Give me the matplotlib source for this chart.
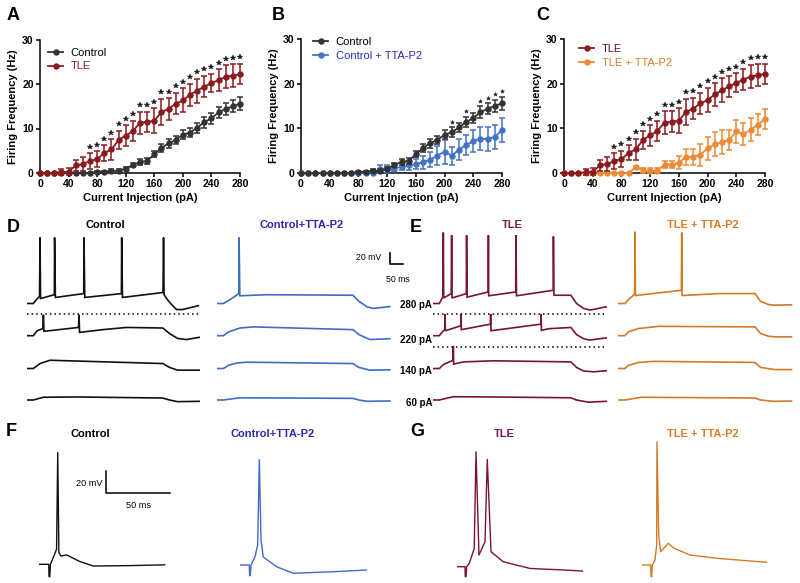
import numpy as np
import matplotlib
matplotlib.use('Agg')
import matplotlib.pyplot as plt
from matplotlib.lines import Line2D

plt.rcParams['font.family'] = ['Liberation Sans', 'DejaVu Sans']

W, H = 800, 583

# firing frequency (Hz) vs current injection (pA), mean and SEM
current = list(range(0, 290, 10))
ctrl_mean = [0, 0, 0, 0, 0, 0, 0, 0, 0.3, 0.3, 0.5, 0.5, 1.0, 1.8, 2.5, 2.7, 4.2, 5.6,
             6.7, 7.4, 8.6, 9.1, 10.2, 11.4, 12.3, 13.6, 14.4, 15.0, 15.6]
ctrl_sem = [0, 0, 0, 0, 0, 0, 0, 0, 0.2, 0.2, 0.3, 0.3, 0.4, 0.4, 0.6, 0.6, 0.7, 0.9,
            1.0, 0.9, 1.0, 1.1, 1.1, 1.2, 1.2, 1.3, 1.3, 1.4, 1.5]
tle_mean = [0, 0, 0, 0.2, 0.3, 1.7, 2.0, 2.7, 3.1, 4.5, 5.3, 7.4, 8.4, 9.4, 11.3, 11.5,
            11.7, 13.7, 14.4, 15.6, 16.3, 17.6, 18.5, 19.4, 20.2, 20.9, 21.6, 21.9, 22.2]
tle_sem = [0, 0, 0, 0.6, 0.8, 1.2, 1.5, 1.7, 1.8, 1.7, 2.3, 2.0, 2.3, 2.3, 2.5, 2.3,
           2.8, 2.9, 2.4, 2.4, 2.7, 2.5, 2.7, 2.4, 2.1, 2.4, 2.6, 2.5, 2.3]
ctrl_tta_mean = [0, 0, 0, 0, 0, 0, 0, 0, 0, 0, 0, 0.8, 0.9, 1.0, 1.4, 1.7, 2.0, 2.4,
                 3.0, 3.9, 4.8, 3.9, 5.2, 6.3, 7.1, 7.7, 7.6, 8.1, 9.6]
ctrl_tta_sem = [0, 0, 0, 0, 0, 0, 0, 0, 0, 0, 0, 0.9, 0.8, 0.6, 0.8, 1.0, 1.1, 1.5,
                1.7, 2.2, 2.7, 2.0, 2.4, 2.3, 2.5, 2.5, 2.6, 2.7, 2.7]
tle_tta_mean = [0, 0, 0, 0, 0, 0, 0, 0, 0, 0, 1.3, 0.6, 0.5, 0.5, 1.9, 1.9, 2.3, 3.6,
                3.6, 4.1, 5.5, 6.4, 6.9, 7.4, 9.3, 8.7, 9.7, 10.8, 12.1]
tle_tta_sem = [0, 0, 0, 0, 0, 0, 0, 0, 0, 0, 0.3, 0.6, 0.6, 0.6, 0.8, 0.8, 1.5, 1.7,
               1.7, 2.5, 2.5, 2.7, 2.7, 2.3, 2.5, 2.5, 2.6, 2.3, 2.2]
stars_tle = list(range(70, 290, 10))
stars_tta = [210, 230, 250, 260, 270, 280]

# step-current traces (time in ms, relative membrane potential in mV)
ctrl_280 = ([0, 23, 35, 47, 49, 51, 104, 105, 108, 217, 218, 221, 362, 363, 366, 522, 524, 526, 539, 551, 574, 597, 658],
            [0, 0, 7, 13, 120, 9, 16, 120, 11, 18, 120, 11, 18, 120, 11, 20, 120, 16, 7, 0, -11, -11, -4])
ctrl_220 = ([0, 23, 38, 60, 62, 64, 197, 199, 201, 290, 381, 521, 547, 578, 612, 661],
            [0, 0, 9, 13, 38, 8, 15, 38, 6, 11, 15, 14, 4, -5, -7, -3])
ctrl_140 = ([0, 23, 49, 87, 231, 521, 547, 578, 661],
            [0, 0, 9, 15, 13, 9, 2, -3, -3])
ctrl_60 = ([0, 23, 62, 193, 520, 547, 578, 661],
           [0, 0, 5, 5.5, 3.6, 0, -3, -2.4])
ctta_280 = ([0, 26, 46, 64, 85, 86, 89, 193, 524, 547, 578, 603, 666],
            [0, 0, 5.5, 11, 18, 120, 14, 16, 15, 4, -6, -9, -5.5])
ctta_220 = ([0, 26, 46, 90, 141, 524, 547, 589, 666],
            [0, 0, 7, 14, 16, 11, 2, -7, -5.5])
ctta_140 = ([0, 26, 46, 77, 116, 524, 547, 589, 666],
            [0, 0, 6, 10, 11.5, 9, 2, -3, -2.4])
ctta_60 = ([0, 26, 89, 524, 547, 578, 666],
           [0, 0, 4, 3, 0, -2.4, -1.8])
tle_280 = ([0, 23, 31, 37, 38.5, 40, 69, 70.5, 72, 127, 128, 130, 211, 212, 213, 317, 318, 320, 461, 462, 464, 529, 551, 578, 603, 665],
           [0, 0, 7, 13, 129, 10, 18, 124, 10, 18, 124, 11.5, 21, 124, 14, 21, 124, 14, 24, 122, 15, 15, 0, -9, -12, -6])
tle_220 = ([0, 23, 35, 44, 45, 46.5, 105.5, 106.5, 108, 219.5, 220.5, 222, 413.5, 414.5, 416, 443, 529, 551, 578, 601, 665],
           [0, 0, 7, 11, 39.5, 9, 18, 39.5, 11, 21, 39.5, 9, 21, 39.5, 9.6, 12.7, 15, 2, -5.5, -8, -4])
tle_140 = ([0, 23, 38.5, 76, 77, 78.5, 115.5, 231, 529, 551, 578, 616, 665],
           [0, 0, 7, 15, 41, 8, 12, 14, 12, 2, -4.5, -6, -4])
tle_60 = ([0, 23, 77, 231, 529, 551, 597, 665],
          [0, 0, 6, 5.5, 4, 0, -4, -2.4])
ttta_280 = ([0, 26, 38.5, 54, 63, 64, 66, 242.5, 244, 245, 385, 526, 547, 578, 601, 666],
            [0, 0, 7, 13, 18, 130.5, 14.5, 24, 129, 14.5, 18, 18, 4, -2, -3, -2.4])
ttta_220 = ([0, 26, 38.5, 77, 154, 526, 547, 578, 601, 666],
            [0, 0, 7, 13, 17, 16, 4, -1, -2, -2])
ttta_140 = ([0, 26, 38.5, 77, 135, 526, 547, 601, 666],
            [0, 0, 5.5, 11, 13, 11, 2, -2, -2])
ttta_60 = ([0, 26, 89, 526, 547, 597, 666],
           [0, 0, 5, 3.6, 0, -2.4, -1.8])
row_labels = ['280 pA', '220 pA', '140 pA', '60 pA']

# single action potentials (ms, mV)
ap_ctrl = ([0, 7.4, 7.6, 8.2, 8.7, 12.2, 13.5, 14.4, 15.3, 16.9, 21.4, 31.2, 42.1, 70.7, 98],
           [0, 0, -11.4, -11.4, 0, 10, 14, 103, 11, 7.6, 8.6, 2.8, -1.6, -1.2, -0.5])
ap_ctta = ([0, 7.3, 7.5, 8.0, 8.6, 11.7, 13.8, 15.1, 16.4, 18.2, 28.6, 41.6, 72.8, 98.8],
           [0, 0, -9.8, -9.8, 0, 7.6, 18.4, 97, 23, 7.4, -1.6, -7.6, -6.2, -4.6])
ap_tle = ([0, 6.5, 6.7, 7.3, 7.8, 9.8, 13.7, 15.1, 17.4, 22.1, 23.9, 26.8, 36.3, 57.2, 83.2, 98.3],
          [0, 0, -9.2, -9.2, 0, 3, 16.8, 105.8, 10.8, 23, 98.8, 13.8, 4.6, -1.6, -3, -4])
ap_ttta = ([0, 7, 7.3, 7.8, 8.3, 10.4, 11.7, 11.9, 13.3, 14.8, 20.7, 25, 37.7, 58.5, 97.5],
           [0, 0, -10.8, -10.8, 0, 4.6, 18.4, 113.4, 27.6, 12.2, 20, 15.6, 9.2, 6.2, 2.5])

c_ctrl, c_tle, c_ctta, c_ttta = '#333333', '#8b1a1f', '#4472c4', '#ee8a35'
t_ctrl, t_tle, t_ctta, t_ttta = '#111111', '#7a1432', '#3f6cc4', '#d57a24'
txt_tle, txt_ctta, txt_ttta = '#7a1a4a', '#2a2ab0', '#e07a2a'


def px_rect(l, t, r, b):
    return [l / W, 1 - b / H, (r - l) / W, (b - t) / H]


def ftext(x, y, s, **kw):
    fig.text(x / W, 1 - y / H, s, **kw)


fig = plt.figure(figsize=(8, 5.83), dpi=100)


def freq_panel(rect, series, stars, star_series, star_kw, leg_anchor):
    ax = fig.add_axes(px_rect(*rect))
    for mean, sem, col, z in series:
        ax.errorbar(current, mean, yerr=sem, color=col, lw=1.3, marker='o', ms=3.6,
                    elinewidth=1.1, capsize=2.4, capthick=1.1, clip_on=False, zorder=z)
    m, s = star_series
    off = star_kw.pop('off')
    sy = [m[current.index(x)] + s[current.index(x)] + off for x in stars]
    ax.plot(stars, sy, ls='none', color='#1a1a1a', clip_on=False, **star_kw)
    ax.set_xlim(0, 280)
    ax.set_ylim(0, 30)
    ax.set_xticks(range(0, 281, 40))
    ax.set_yticks([0, 10, 20, 30])
    for sp in ['top', 'right']:
        ax.spines[sp].set_visible(False)
    for sp in ['left', 'bottom']:
        ax.spines[sp].set_linewidth(1.1)
    ax.tick_params(width=1.1, length=3, pad=1.5, labelsize=7.5)
    for lab in ax.get_xticklabels() + ax.get_yticklabels():
        lab.set_fontweight('bold')
    ax.set_xlabel('Current Injection (pA)', fontsize=8, fontweight='bold')
    ax.set_ylabel('Firing Frequency (Hz)', fontsize=8, fontweight='bold')
    ax.xaxis.set_label_coords(0.5, -0.15)
    ax.yaxis.set_label_coords(-0.11, 0.5)
    handles = [Line2D([], [], color=c, marker='o', ms=3.6, lw=1.3) for _, _, c in leg_anchor[2]]
    labels = [l for l, _, _ in leg_anchor[2]]
    lcols = [tc for _, tc, _ in leg_anchor[2]]
    ax.legend(handles, labels, loc='upper left', bbox_to_anchor=leg_anchor[:2], frameon=False,
              fontsize=8, handlelength=1.35, handletextpad=0.7, labelspacing=0.35,
              borderpad=0, borderaxespad=0, labelcolor=lcols)
    return ax


freq_panel((40, 39.5, 240, 173),
           [(ctrl_mean, ctrl_sem, c_ctrl, 3), (tle_mean, tle_sem, c_tle, 4)],
           stars_tle, (tle_mean, tle_sem), dict(marker='*', ms=4.2, mew=0.3, off=1.5),
           (0.04, 0.94, [('Control', 'black', c_ctrl), ('TLE', txt_tle, c_tle)]))
freq_panel((301, 39, 502, 173),
           [(ctrl_tta_mean, ctrl_tta_sem, c_ctta, 3), (ctrl_mean, ctrl_sem, c_ctrl, 4)],
           stars_tta, (ctrl_mean, ctrl_sem), dict(marker='*', ms=3.0, mew=0.3, off=1.2),
           (0.06, 1.015, [('Control', 'black', c_ctrl), ('Control + TTA-P2', txt_ctta, c_ctta)]))
freq_panel((564, 39, 765, 173),
           [(tle_tta_mean, tle_tta_sem, c_ttta, 3), (tle_mean, tle_sem, c_tle, 4)],
           stars_tle, (tle_mean, tle_sem), dict(marker='*', ms=4.2, mew=0.3, off=1.5),
           (0.075, 0.965, [('TLE', '#5a1020', c_tle), ('TLE + TTA-P2', txt_ttta, c_ttta)]))

# step traces D / E
MS_PX, MV_PX = 50 / 13, 20 / 11
ROW_BASE = [303.5, 335.7, 368.5, 400]
TOP, BOT = 225, 415
CLIP = 40


def step_column(left, traces, color, dotted_rows):
    ax = fig.add_axes(px_rect(left, TOP, left + 176, BOT))
    ax.set_xlim(0, 176 * MS_PX)
    ax.set_ylim(0, (BOT - TOP) * MV_PX)
    ax.axis('off')
    for base, (t, v) in zip(ROW_BASE, traces):
        off = (BOT - base) * MV_PX
        ax.plot(t, np.array(v) + off, color=color, lw=1.2, solid_joinstyle='miter')
    for r in dotted_rows:
        off = (BOT - ROW_BASE[r]) * MV_PX
        ax.plot([0, traces[r][0][-1]], [off + CLIP, off + CLIP], color='black',
                lw=1.1, ls=(0, (1, 2)))
    return ax


step_column(27.3, [ctrl_280, ctrl_220, ctrl_140, ctrl_60], t_ctrl, [1])
step_column(216.7, [ctta_280, ctta_220, ctta_140, ctta_60], t_ctta, [])
step_column(433.3, [tle_280, tle_220, tle_140, tle_60], t_tle, [1, 2])
step_column(618.3, [ttta_280, ttta_220, ttta_140, ttta_60], t_ttta, [])

# scale bar D/E
sb = fig.add_axes(px_rect(389.5, 253, 389.5 + 50 / MS_PX, 253 + 20 / MV_PX))
sb.set_xlim(0, 50)
sb.set_ylim(0, 20)
sb.axis('off')
sb.plot([0, 0, 50], [20, 0, 0], color='black', lw=1.2, clip_on=False)
ftext(381, 257, '20 mV', fontsize=6.3, ha='right', va='center')
ftext(397.5, 279.5, '50 ms', fontsize=6.3, ha='center', va='center')

for lab, base in zip(row_labels, [305, 340, 371, 403]):
    ftext(432, base, lab, fontsize=7, fontweight='bold', ha='right', va='center')

# single APs F / G
AP_MS, AP_MV = 50 / 64, 20 / 21.7
AP_TOP, AP_BOT = 440, 582


def ap_axes(left, base, trace, color):
    ax = fig.add_axes(px_rect(left, AP_TOP, left + 135, AP_BOT))
    ax.set_xlim(0, 135 * AP_MS)
    ax.set_ylim(-(AP_BOT - base) * AP_MV, (base - AP_TOP) * AP_MV)
    ax.axis('off')
    ax.plot(trace[0], trace[1], color=color, lw=1.0)
    return ax


ap_axes(39.3, 564.3, ap_ctrl, t_ctrl)
ap_axes(240, 565, ap_ctta, t_ctta)
ap_axes(456.7, 566.7, ap_tle, t_tle)
ap_axes(641.7, 565, ap_ttta, t_ttta)

sb2 = fig.add_axes(px_rect(106, 471, 106 + 50 / AP_MS, 471 + 20 / AP_MV))
sb2.set_xlim(0, 50)
sb2.set_ylim(0, 20)
sb2.axis('off')
sb2.plot([0, 0, 50], [20, 0, 0], color='black', lw=1.1, clip_on=False)
ftext(103, 483, '20 mV', fontsize=6.6, ha='right', va='center')
ftext(138.3, 505, '50 ms', fontsize=6.6, ha='center', va='center')

# panel letters and titles
for letter, x, y in [('A', 13, 15), ('B', 278, 15), ('C', 543, 15),
                     ('D', 13, 227), ('E', 416, 227), ('F', 11, 431), ('G', 417, 431)]:
    ftext(x, y, letter, fontsize=13, fontweight='bold', ha='center', va='center')

for s, x, y, c in [('Control', 105, 225, 'black'), ('Control+TTA-P2', 302, 225, txt_ctta),
                   ('TLE', 512, 225, txt_tle), ('TLE + TTA-P2', 703, 225, txt_ttta),
                   ('Control', 90, 434, 'black'), ('Control+TTA-P2', 273, 434, txt_ctta),
                   ('TLE', 504, 434, txt_tle), ('TLE + TTA-P2', 703, 434, txt_ttta)]:
    ftext(x, y, s, fontsize=8, fontweight='bold', color=c, ha='center', va='center')

fig.savefig('out.png', dpi=100)
